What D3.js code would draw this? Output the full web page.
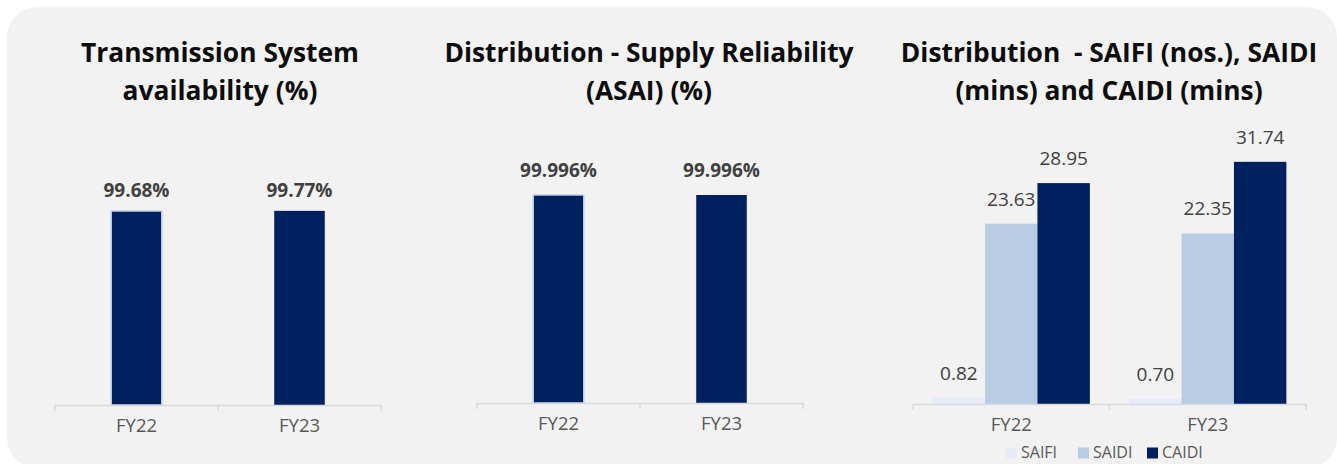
<!DOCTYPE html>
<html lang="en">
<head>
<meta charset="UTF-8">
<title>Reliability</title>
<script src="https://d3js.org/d3.v7.min.js"></script>
<style>
  body { margin: 0; background: #fff; }
  svg { display: block; font-family: "Open Sans", "Noto Sans", sans-serif; }
</style>
</head>
<body>
<script>
// data
const years = ["FY22", "FY23"];
const transmission = [99.68, 99.77];
const asai = [99.996, 99.996];
const seriesNames = ["SAIFI", "SAIDI", "CAIDI"];
const saifi = [0.82, 0.70];
const saidi = [23.63, 22.35];
const caidi = [28.95, 31.74];
const titles = [
  ["Transmission System", "availability (%)"],
  ["Distribution - Supply Reliability", "(ASAI) (%)"],
  ["Distribution  - SAIFI (nos.), SAIDI", "(mins) and CAIDI (mins)"]
];

const W = 1337, H = 464;
const navy = "#002060";
const colors = {SAIFI: "#e6ecf7", SAIDI: "#b8cce4", CAIDI: navy};

const svg = d3.select("body").append("svg")
  .attr("width", W).attr("height", H);

svg.append("rect")
  .attr("x", 7).attr("y", 7)
  .attr("width", 1330).attr("height", 461)
  .attr("rx", 30)
  .attr("fill", "#f2f2f2");

function drawTitle(lines, cx) {
  const t = svg.append("text")
    .attr("text-anchor", "middle")
    .attr("font-weight", "bold")
    .attr("font-size", 26.4)
    .attr("fill", "#0d0d0d")
    .style("white-space", "pre");
  lines.forEach((l, i) => {
    t.append("tspan").attr("x", cx).attr("y", 62 + i * 38).text(l);
  });
}

function drawAxis(x, y0) {
  const g = svg.append("g").attr("transform", `translate(0,${y0})`);
  g.call(d3.axisBottom(x).tickSize(0).tickPadding(14))
    .call(a => a.select(".domain").attr("stroke", "#d9d9d9").attr("stroke-width", 1.5))
    .call(a => a.selectAll("text")
      .attr("font-size", 18.5).attr("fill", "#595959")
      .attr("font-family", "Open Sans, sans-serif"));
  // Excel-style ticks at the band edges
  const edges = x.domain().map(d => x(d)).concat([x(x.domain()[x.domain().length - 1]) + x.bandwidth()]);
  g.selectAll(".edge").data(edges).enter().append("line")
    .attr("x1", d => d).attr("x2", d => d)
    .attr("y1", 0).attr("y2", 6)
    .attr("stroke", "#d9d9d9").attr("stroke-width", 1.5);
}

function singleBars(values, xr, y0, pxTop, fmt, labelGap) {
  const x = d3.scaleBand().domain(years).range(xr);
  const y = d3.scaleLinear().domain([0, 100]).range([y0, pxTop]);
  const bw = x.bandwidth() * 0.31;
  const g = svg.append("g");
  g.selectAll("rect").data(values).enter().append("rect")
    .attr("x", (d, i) => x(years[i]) + (x.bandwidth() - bw) / 2)
    .attr("y", d => y(d))
    .attr("width", bw)
    .attr("height", d => y0 - y(d))
    .attr("fill", navy)
    .attr("stroke", (d, i) => i === 0 ? "#b8cce4" : "none")
    .attr("stroke-width", 1.5);
  g.selectAll("text").data(values).enter().append("text")
    .attr("x", (d, i) => x(years[i]) + x.bandwidth() / 2)
    .attr("y", d => y(d) - labelGap)
    .attr("text-anchor", "middle")
    .attr("font-weight", "bold")
    .attr("font-size", 19)
    .attr("fill", "#404040")
    .text(d => fmt(d) + "%");
  drawAxis(x, y0);
}

// chart 1
drawTitle(titles[0], 220);
singleBars(transmission, [55, 381], 405, 210.4, d3.format(".2f"), 14);

// chart 2
drawTitle(titles[1], 649);
singleBars(asai, [477, 803], 403, 195, d3.format(".3f"), 18);

// chart 3
drawTitle(titles[2], 1109);
const groups = years.map((yr, i) => ({
  year: yr,
  vals: [
    {key: "SAIFI", v: saifi[i]},
    {key: "SAIDI", v: saidi[i]},
    {key: "CAIDI", v: caidi[i]}
  ]
}));
const base3 = 404;
const x0 = d3.scaleBand().domain(years).range([913, 1306]);
const x1 = d3.scaleBand().domain(seriesNames)
  .range([x0.bandwidth() * 0.1, x0.bandwidth() * 0.9]);
const y3 = d3.scaleLinear().domain([0, 40]).range([base3, base3 - 305.2]);

const grp = svg.append("g").selectAll("g").data(groups).enter().append("g")
  .attr("transform", d => `translate(${x0(d.year)},0)`);
grp.selectAll("rect").data(d => d.vals).enter().append("rect")
  .attr("x", d => x1(d.key))
  .attr("y", d => y3(d.v))
  .attr("width", x1.bandwidth())
  .attr("height", d => base3 - y3(d.v))
  .attr("fill", d => colors[d.key]);
grp.selectAll("text").data(d => d.vals).enter().append("text")
  .attr("x", d => x1(d.key) + x1.bandwidth() / 2)
  .attr("y", d => y3(d.v) - 18)
  .attr("text-anchor", "middle")
  .attr("font-size", 19)
  .attr("fill", "#404040")
  .text(d => d3.format(".2f")(d.v));
drawAxis(x0, base3);

// legend
const legX = [1006, 1078, 1147];
const leg = svg.append("g").selectAll("g").data(seriesNames).enter().append("g")
  .attr("transform", (d, i) => `translate(${legX[i]},447)`);
leg.append("rect")
  .attr("y", 0.5)
  .attr("width", 11).attr("height", 11)
  .attr("fill", d => colors[d]);
leg.append("text")
  .attr("x", 15).attr("y", 11)
  .attr("font-size", 16)
  .attr("fill", "#595959")
  .text(d => d);
</script>
</body>
</html>
